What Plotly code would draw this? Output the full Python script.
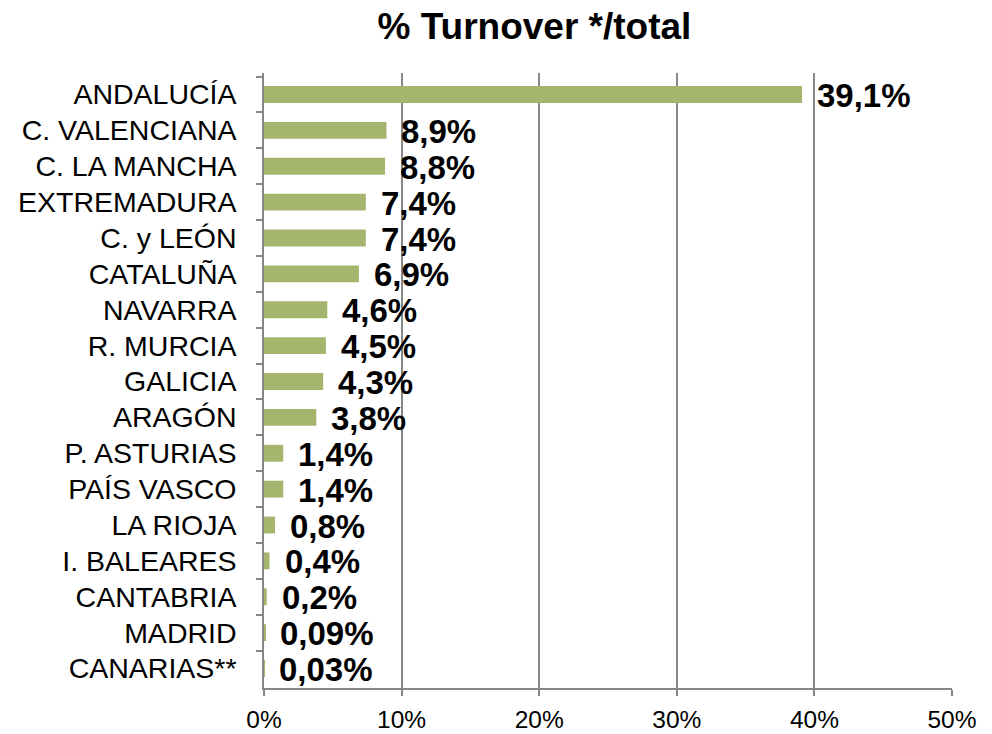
import plotly.graph_objects as go

regions = ["ANDALUCÍA", "C. VALENCIANA", "C. LA MANCHA", "EXTREMADURA", "C. y LEÓN",
           "CATALUÑA", "NAVARRA", "R. MURCIA", "GALICIA", "ARAGÓN", "P. ASTURIAS",
           "PAÍS VASCO", "LA RIOJA", "I. BALEARES", "CANTABRIA", "MADRID", "CANARIAS**"]
values = [39.1, 8.9, 8.8, 7.4, 7.4, 6.9, 4.6, 4.5, 4.3, 3.8, 1.4, 1.4, 0.8, 0.4, 0.2, 0.09, 0.03]
labels = ["39,1%", "8,9%", "8,8%", "7,4%", "7,4%", "6,9%", "4,6%", "4,5%", "4,3%", "3,8%",
          "1,4%", "1,4%", "0,8%", "0,4%", "0,2%", "0,09%", "0,03%"]
x_ticks = [0, 10, 20, 30, 40, 50]
x_tick_text = ["0%", "10%", "20%", "30%", "40%", "50%"]

FONT = "Liberation Sans, Arial"

fig = go.Figure()
fig.add_trace(go.Bar(
    x=values, y=regions, orientation="h",
    marker=dict(color="#A5B56E", line=dict(width=0)),
    width=0.47, hoverinfo="skip",
))
for v, r, t in zip(values, regions, labels):
    fig.add_annotation(x=v, y=r, text=t, showarrow=False, xanchor="left",
                       xshift=13, yshift=-1,
                       font=dict(family=FONT, size=33, color="black", weight="bold"))

fig.update_layout(
    width=984, height=726,
    paper_bgcolor="white", plot_bgcolor="white",
    margin=dict(l=256, r=40, t=65, b=46),
    title=dict(text="<b>% Turnover */total</b>", x=0.535, xanchor="center",
               y=0.975, yanchor="middle",
               font=dict(family=FONT, size=37, color="black")),
    showlegend=False,
    xaxis=dict(range=[0, 50], tickvals=x_ticks, ticktext=x_tick_text,
               showgrid=True, gridcolor="#878787", gridwidth=1.5,
               showline=True, linecolor="#878787", linewidth=1.5,
               ticks="outside", ticklen=6, tickcolor="#878787", tickwidth=1.5,
               tickfont=dict(family=FONT, size=24.5, color="black"),
               ticklabelstandoff=3, automargin=False,
               zeroline=False, fixedrange=True),
    yaxis=dict(categoryorder="array", categoryarray=regions, autorange="reversed",
               showline=True, linecolor="#878787", linewidth=1.5,
               ticks="outside", ticklen=6, tickcolor="#878787", tickwidth=1.5,
               tickson="boundaries", showgrid=False, automargin=False,
               tickfont=dict(family=FONT, size=28.5, color="black"),
               ticklabelstandoff=20),
)

fig.write_html("out.html")
